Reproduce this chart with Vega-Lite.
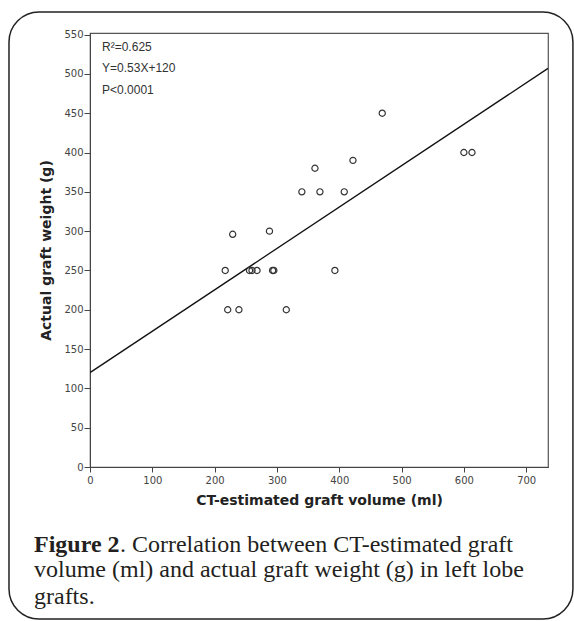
{
  "$schema": "https://vega.github.io/schema/vega-lite/v6.json",
  "width": 458,
  "height": 434,
  "autosize": {"type": "none"},
  "padding": {"left": 90, "top": 33, "right": 26, "bottom": 154},
  "background": "white",
  "config": {
    "view": {"stroke": "#555", "strokeWidth": 1.2},
    "axis": {"grid": false, "domainColor": "#444", "tickColor": "#444", "labelColor": "#444", "labelFont": "DejaVu Sans", "labelFontSize": 10, "titleFont": "DejaVu Sans", "titleFontWeight": "bold", "titleFontSize": 14, "titleColor": "#222", "labelOverlap": false, "labelFlush": false},
    "axisX": {"tickSize": 5, "labelPadding": 3, "titlePadding": 8},
    "axisY": {"tickSize": 6, "labelPadding": 1, "titlePadding": 10}
  },
  "datasets": {
    "pts": [
      {"volume": 469, "weight": 450}, {"volume": 600, "weight": 400}, {"volume": 613, "weight": 400},
      {"volume": 422, "weight": 390}, {"volume": 361, "weight": 380}, {"volume": 340, "weight": 350},
      {"volume": 369, "weight": 350}, {"volume": 408, "weight": 350}, {"volume": 288, "weight": 300},
      {"volume": 229, "weight": 296}, {"volume": 217, "weight": 250}, {"volume": 256, "weight": 250},
      {"volume": 260, "weight": 250}, {"volume": 268, "weight": 250}, {"volume": 293, "weight": 250},
      {"volume": 295, "weight": 250}, {"volume": 393, "weight": 250}, {"volume": 221, "weight": 200},
      {"volume": 239, "weight": 200}, {"volume": 315, "weight": 200}
    ],
    "fit": [{"volume": 0, "weight": 120}, {"volume": 735, "weight": 507}],
    "notes": [{"t": "R²=0.625", "volume": 19.3, "weight": 534.6}, {"t": "Y=0.53X+120", "volume": 19.3, "weight": 507.1}, {"t": "P<0.0001", "volume": 19.3, "weight": 479.5}],
    "one": [{}]
  },
  "layer": [
    {
      "data": {"name": "fit"},
      "mark": {"type": "line", "color": "#111", "strokeWidth": 1.3, "clip": true},
      "encoding": {
        "x": {"field": "volume", "type": "quantitative", "scale": {"domain": [0, 735], "nice": false, "zero": true},
              "axis": {"values": [0, 100, 200, 300, 400, 500, 600, 700], "title": "CT-estimated graft volume (ml)"}},
        "y": {"field": "weight", "type": "quantitative", "scale": {"domain": [0, 552], "nice": false, "zero": true},
              "axis": {"values": [0, 50, 100, 150, 200, 250, 300, 350, 400, 450, 500, 550], "title": "Actual graft weight (g)"}}
      }
    },
    {
      "data": {"name": "pts"},
      "mark": {"type": "point", "shape": "circle", "filled": false, "color": "#333", "size": 38, "strokeWidth": 1.2, "opacity": 1},
      "encoding": {
        "x": {"field": "volume", "type": "quantitative", "axis": {"values": [0, 100, 200, 300, 400, 500, 600, 700], "title": "CT-estimated graft volume (ml)"}},
        "y": {"field": "weight", "type": "quantitative", "axis": {"values": [0, 50, 100, 150, 200, 250, 300, 350, 400, 450, 500, 550], "title": "Actual graft weight (g)"}}
      }
    },
    {
      "data": {"name": "notes"},
      "mark": {"type": "text", "align": "left", "baseline": "middle", "font": "Liberation Sans", "fontSize": 12, "color": "#333"},
      "encoding": {
        "x": {"field": "volume", "type": "quantitative", "axis": {"values": [0, 100, 200, 300, 400, 500, 600, 700], "title": "CT-estimated graft volume (ml)"}},
        "y": {"field": "weight", "type": "quantitative", "axis": {"values": [0, 50, 100, 150, 200, 250, 300, 350, 400, 450, 500, 550], "title": "Actual graft weight (g)"}},
        "text": {"field": "t"}
      }
    },
    {
      "data": {"name": "one"},
      "mark": {"type": "text", "align": "left", "baseline": "middle", "font": "Liberation Serif", "fontSize": 24, "fontWeight": "bold", "color": "#231f20"},
      "encoding": {
        "x": {"datum": -89.9, "type": "quantitative", "axis": {"values": [0, 100, 200, 300, 400, 500, 600, 700], "title": "CT-estimated graft volume (ml)"}},
        "y": {"datum": -99.2, "type": "quantitative", "axis": {"values": [0, 50, 100, 150, 200, 250, 300, 350, 400, 450, 500, 550], "title": "Actual graft weight (g)"}},
        "text": {"value": "Figure 2"}
      }
    },
    {
      "data": {"name": "one"},
      "mark": {"type": "text", "align": "left", "baseline": "middle", "font": "Liberation Serif", "fontSize": 24, "color": "#231f20"},
      "encoding": {
        "x": {"datum": 48.1, "type": "quantitative", "axis": {"values": [0, 100, 200, 300, 400, 500, 600, 700], "title": "CT-estimated graft volume (ml)"}},
        "y": {"datum": -99.2, "type": "quantitative", "axis": {"values": [0, 50, 100, 150, 200, 250, 300, 350, 400, 450, 500, 550], "title": "Actual graft weight (g)"}},
        "text": {"value": ". Correlation between CT-estimated graft"}
      }
    },
    {
      "data": {"name": "one"},
      "mark": {"type": "text", "align": "left", "baseline": "middle", "font": "Liberation Serif", "fontSize": 24, "color": "#231f20"},
      "encoding": {
        "x": {"datum": -89.9, "type": "quantitative", "axis": {"values": [0, 100, 200, 300, 400, 500, 600, 700], "title": "CT-estimated graft volume (ml)"}},
        "y": {"datum": -131.0, "type": "quantitative", "axis": {"values": [0, 50, 100, 150, 200, 250, 300, 350, 400, 450, 500, 550], "title": "Actual graft weight (g)"}},
        "text": {"value": "volume (ml) and actual graft weight (g) in left lobe"}
      }
    },
    {
      "data": {"name": "one"},
      "mark": {"type": "text", "align": "left", "baseline": "middle", "font": "Liberation Serif", "fontSize": 24, "color": "#231f20"},
      "encoding": {
        "x": {"datum": -89.9, "type": "quantitative", "axis": {"values": [0, 100, 200, 300, 400, 500, 600, 700], "title": "CT-estimated graft volume (ml)"}},
        "y": {"datum": -165.4, "type": "quantitative", "axis": {"values": [0, 50, 100, 150, 200, 250, 300, 350, 400, 450, 500, 550], "title": "Actual graft weight (g)"}},
        "text": {"value": "grafts."}
      }
    },
    {
      "data": {"name": "one"},
      "mark": {"type": "rect", "fill": null, "filled": false, "stroke": "#222", "strokeWidth": 1.5, "cornerRadius": 30},
      "encoding": {
        "x": {"datum": -130, "type": "quantitative", "axis": {"values": [0, 100, 200, 300, 400, 500, 600, 700], "title": "CT-estimated graft volume (ml)"}},
        "x2": {"datum": 775},
        "y": {"datum": 578.7, "type": "quantitative", "axis": {"values": [0, 50, 100, 150, 200, 250, 300, 350, 400, 450, 500, 550], "title": "Actual graft weight (g)"}},
        "y2": {"datum": -193.3}
      }
    }
  ]
}
